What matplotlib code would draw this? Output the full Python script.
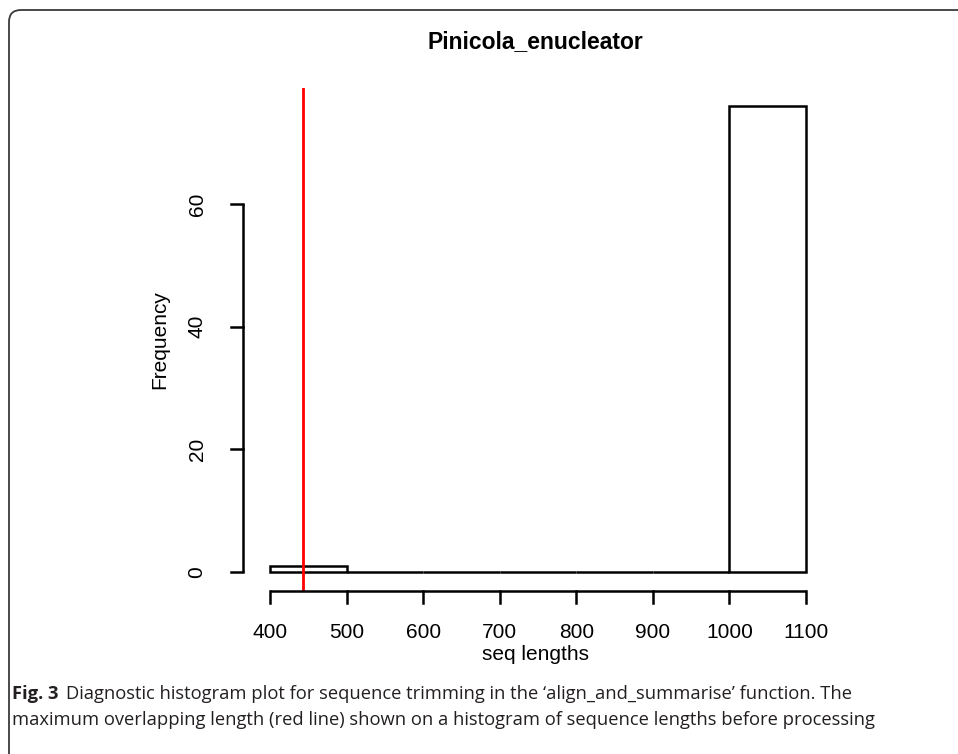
import matplotlib
matplotlib.use("Agg")
import matplotlib.pyplot as plt
from matplotlib.path import Path
from matplotlib.patches import PathPatch

# histogram of sequence lengths
bin_edges = [400, 500, 600, 700, 800, 900, 1000, 1100]
counts = [1, 0, 0, 0, 0, 0, 76]
cutoff = 443  # maximum overlapping length
y_ticks = [0, 20, 40, 60]
x_ticks = [400, 500, 600, 700, 800, 900, 1000, 1100]

title = "Pinicola_enucleator"
caption_bold = "Fig. 3"
caption_1 = "Diagnostic histogram plot for sequence trimming in the \u2018align_and_summarise\u2019 function. The"
caption_2 = "maximum overlapping length (red line) shown on a histogram of sequence lengths before processing"

W, H = 958, 754
plt.rcParams['font.family'] = ['Liberation Sans', 'DejaVu Sans']
cap_font = ['Open Sans', 'DejaVu Sans']


def main():
    fig = plt.figure(figsize=(W / 100, H / 100), dpi=100)
    # plot region in pixels
    left, right, top, bottom = 243, 827.5, 87.5, 590.6
    ax = fig.add_axes([left / W, 1 - bottom / H, (right - left) / W, (bottom - top) / H])

    widths = [b - a for a, b in zip(bin_edges[:-1], bin_edges[1:])]
    ax.bar(bin_edges[:-1], counts, width=widths, align='edge',
           facecolor='white', edgecolor='black', linewidth=1.8)
    ax.set_xlim(364.8, 1128)
    ax.set_ylim(-3.04, 79.04)
    ax.axvline(cutoff, color='#ff0000', linewidth=2)

    for s in ax.spines.values():
        s.set_visible(False)
    ax.set_xticks([])
    ax.set_yticks([])

    # R-style axes
    ax.plot([x_ticks[0], x_ticks[-1]], [-3.04, -3.04], color='black', lw=1.8,
            clip_on=False, solid_capstyle='butt')
    ax.plot([364.8, 364.8], [y_ticks[0], y_ticks[-1]], color='black', lw=1.8,
            clip_on=False, solid_capstyle='butt')
    tick_px = 12
    xpx = (1128 - 364.8) / (right - left)
    ypx = (79.04 + 3.04) / (bottom - top)
    for t in x_ticks:
        ax.plot([t, t], [-3.04, -3.04 - tick_px * ypx], color='black', lw=1.8, clip_on=False)
        ax.text(t, -3.04 - 42 * ypx, str(t), ha='center', va='center', fontsize=15)
    for t in y_ticks:
        ax.plot([364.8, 364.8 - tick_px * xpx], [t, t], color='black', lw=1.8, clip_on=False)
        ax.text(364.8 - 46 * xpx, t, str(t), ha='center', va='center', fontsize=15, rotation=90)

    fig.text((left + right) / 2 / W, 1 - 42 / H, title, ha='center', va='center',
             fontsize=16.5, fontweight='bold')
    fig.text((left + right) / 2 / W, 1 - 655 / H, "seq lengths", ha='center', va='center', fontsize=15)
    fig.text(160 / W, 1 - 340 / H, "Frequency", ha='center', va='center', fontsize=15, rotation=90)

    # caption
    r = fig.canvas.get_renderer()
    tb = fig.text(12 / W, 1 - 694 / H, caption_bold, ha='left', va='center', fontsize=13.2,
                  fontweight='bold', family=cap_font, color='#231f20')
    bb = tb.get_window_extent(renderer=r)
    fig.text((bb.x1 + 8) / W, 1 - 694 / H, caption_1, ha='left', va='center', fontsize=13.2,
             family=cap_font, color='#231f20')
    fig.text(12 / W, 1 - 720 / H, caption_2, ha='left', va='center', fontsize=13.2,
             family=cap_font, color='#231f20')

    # rounded frame (left and top edges)
    x0, y0, rad = 9, 10, 12
    verts = [(x0, H), (x0, y0 + rad), (x0, y0), (x0 + rad, y0), (W, y0)]
    codes = [Path.MOVETO, Path.LINETO, Path.CURVE3, Path.CURVE3, Path.LINETO]
    verts = [(x / W, 1 - y / H) for x, y in verts]
    fig.add_artist(PathPatch(Path(verts, codes), transform=fig.transFigure,
                             fill=False, edgecolor='#3a3a3a', lw=1.3))

    fig.savefig("out.png", dpi=100)


if __name__ == "__main__":
    main()
